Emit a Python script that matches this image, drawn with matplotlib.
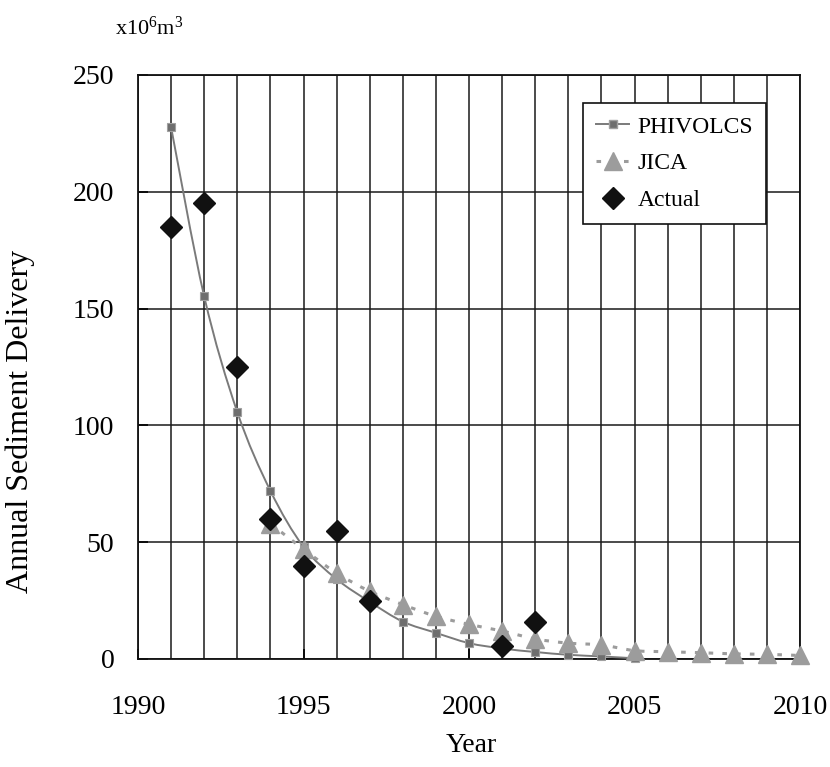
import numpy as np
import matplotlib
matplotlib.use("Agg")
from matplotlib import pyplot as plt
from matplotlib.path import Path
from matplotlib.patches import PathPatch
from matplotlib.lines import Line2D

plt.rcParams['font.family'] = ['Liberation Serif', 'DejaVu Serif']
plt.rcParams['mathtext.fontset'] = 'custom'
plt.rcParams['mathtext.rm'] = 'Liberation Serif'
plt.rcParams['mathtext.it'] = 'Liberation Serif:italic'

# data (x10^6 m^3 per year)
phivolcs_years = [1991, 1992, 1993, 1994, 1995, 1996, 1997, 1998, 1999, 2000,
                  2001, 2002, 2003, 2004, 2005]
phivolcs_vals = [227.6, 155.2, 105.7, 72.0, 48.0, 34.2, 24.5, 16.0, 11.2, 6.8,
                 4.5, 3.0, 1.8, 1.1, 0.3]
jica_years = [1994, 1995, 1996, 1997, 1998, 1999, 2000, 2001, 2002, 2003,
              2004, 2005, 2006, 2007, 2008, 2009, 2010]
jica_vals = [58.0, 47.0, 36.8, 29.0, 23.3, 18.3, 14.8, 12.0, 8.6, 6.8,
             6.0, 3.6, 3.1, 2.7, 2.2, 2.0, 1.5]
actual_years = [1991, 1992, 1993, 1994, 1995, 1996, 1997, 2001, 2002]
actual_vals = [185, 195, 125, 60, 40, 55, 25, 5.7, 16]


def smooth_path(xs, ys):
    # excel-like smoothed line, bezier segments through the points
    p = np.column_stack([xs, ys]).astype(float)
    n = len(p)
    verts = [p[0]]
    codes = [Path.MOVETO]
    for i in range(n - 1):
        p0 = p[i - 1] if i > 0 else p[i]
        p3 = p[i + 2] if i + 2 < n else p[i + 1]
        c1 = p[i] + (p[i + 1] - p0) / 6.0
        c2 = p[i + 1] - (p3 - p[i]) / 6.0
        verts += [c1, c2, p[i + 1]]
        codes += [Path.CURVE4] * 3
    return Path(verts, codes)


fig = plt.figure(figsize=(8.3, 7.67), dpi=100)
ax = fig.add_axes([138/830, 1-659/767, 662/830, 584/767])

ax.set_xlim(1990, 2010)
ax.set_ylim(0, 250)
ax.set_xticks(range(1990, 2011, 5))
ax.set_xticks(range(1990, 2011), minor=True)
ax.set_yticks(range(0, 251, 50))
ax.grid(True, which='both', axis='x', color='#1a1a1a', lw=1.1)
ax.grid(True, which='major', axis='y', color='#1a1a1a', lw=1.1)
ax.set_axisbelow(True)
ax.tick_params(axis='both', which='major', direction='in', length=7,
               width=1.2, labelsize=20)
ax.tick_params(axis='x', which='major', pad=26)
ax.tick_params(axis='y', which='major', pad=17)
ax.tick_params(axis='x', which='minor', length=0)
for s in ax.spines.values():
    s.set_color('#111111')
    s.set_linewidth(1.3)

ph_col = '#7a7a7a'
ji_col = '#9c9c9c'

ax.add_patch(PathPatch(smooth_path(phivolcs_years, phivolcs_vals),
                       fill=False, edgecolor=ph_col, lw=1.4, zorder=3))
ax.plot(phivolcs_years, phivolcs_vals, ls='none', marker='s', ms=6,
        mfc='#6e6e6e', mec='#a0a0a0', mew=0.8, zorder=4, clip_on=False)

ax.add_patch(PathPatch(smooth_path(jica_years, jica_vals), fill=False,
                       edgecolor=ji_col, lw=2.2, ls=(0, (1.5, 3)), zorder=5,
                       clip_on=False))
ax.plot(jica_years, jica_vals, ls='none', marker='^', ms=12.5,
        color=ji_col, zorder=6, clip_on=False)

ax.plot(actual_years, actual_vals, ls='none', marker='D', ms=11.5,
        color='#111111', zorder=7, clip_on=False)

handles = [
    Line2D([], [], color=ph_col, lw=1.4, marker='s', ms=6, mfc='#6e6e6e',
           mec='#a0a0a0'),
    Line2D([], [], color=ji_col, lw=2.2, ls=(0, (1.5, 3)), marker='^',
           ms=12.5),
    Line2D([], [], ls='none', marker='D', ms=11.5, color='#111111'),
]
leg = ax.legend(handles, ['PHIVOLCS', 'JICA', 'Actual'], loc='upper right',
                bbox_to_anchor=(0.9486, 0.952), fontsize=17, frameon=True,
                fancybox=False, framealpha=1, edgecolor='#111111',
                handlelength=1.4, handletextpad=0.35, labelspacing=0.65,
                borderpad=0.55, borderaxespad=0)
leg.get_frame().set_linewidth(1.2)
leg.set_zorder(10)

fig.text(115/830, 1-35/767, r'x10$^{6}$m$^{3}$', fontsize=16, va='baseline')
fig.text(20/830, 1-421/767, 'Annual Sediment Delivery', rotation=90,
         fontsize=23, ha='center', va='center')
fig.text(471/830, 1-745/767, 'Year', fontsize=20, ha='center', va='center')

fig.savefig('out.png', dpi=100)
